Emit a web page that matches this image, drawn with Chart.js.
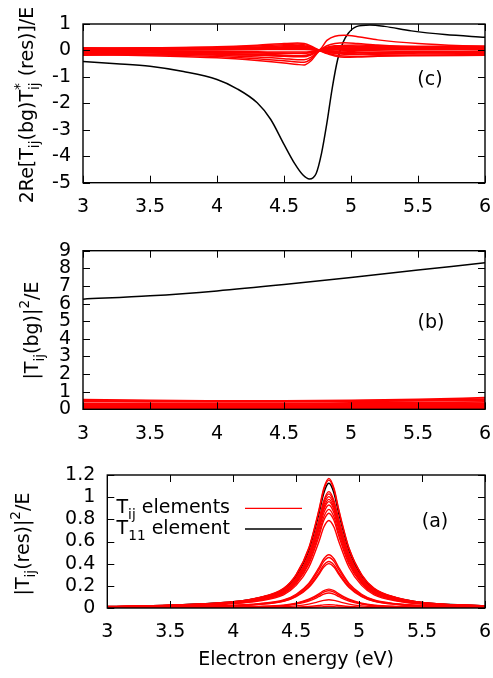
<!DOCTYPE html>
<html><head><meta charset="utf-8">
<script src="https://cdn.jsdelivr.net/npm/chart.js@4.4.0/dist/chart.umd.min.js"></script>
<style>
html,body{margin:0;padding:0;background:#fff;width:493px;height:678px;overflow:hidden}
.p{position:absolute;left:0;width:493px}
</style></head><body>
<div class="p" style="top:0;height:220px"><canvas id="cC"></canvas></div>
<div class="p" style="top:220px;height:230px"><canvas id="cB"></canvas></div>
<div class="p" style="top:450px;height:228px"><canvas id="cA"></canvas></div>
<script>
const FONT = "'DejaVu Sans', sans-serif";

// ---------- Panel (c): 2Re[Tij(bg) Tij*(res)]/E ----------
const energyC = [3.0, 3.25, 3.5, 3.75, 4.0, 4.15, 4.3, 4.4, 4.5, 4.58, 4.64, 4.69, 4.74, 4.78, 4.82, 4.86, 4.9, 4.94, 4.98, 5.04, 5.14, 5.25, 5.45, 5.7, 6.0];
const intT11 = [-0.42, -0.50, -0.60, -0.80, -1.10, -1.45, -1.98, -2.60, -3.55, -4.28, -4.70, -4.86, -4.65, -3.89, -2.75, -1.42, -0.35, 0.30, 0.65, 0.90, 0.96, 0.91, 0.74, 0.60, 0.50];
const energyCR = [3.0, 3.5, 4.0, 4.3, 4.5, 4.6, 4.65, 4.7, 4.76, 4.82, 4.88, 4.95, 5.05, 5.2, 5.5, 6.0];
const intTij01 = [0.05, 0.06, 0.09, 0.13, 0.18, 0.20, 0.18, 0.12, 0.02, 0.38, 0.54, 0.57, 0.52, 0.40, 0.26, 0.14];
const intTij02 = [0.08, 0.10, 0.14, 0.20, 0.26, 0.28, 0.26, 0.17, 0.02, -0.08, -0.10, -0.06, -0.02, 0.02, 0.05, 0.06];
const intTij03 = [0.06, 0.08, 0.12, 0.17, 0.22, 0.24, 0.22, 0.14, 0.02, 0.18, 0.26, 0.29, 0.26, 0.21, 0.14, 0.10];
const intTij04 = [-0.15, -0.20, -0.28, -0.38, -0.47, -0.53, -0.55, -0.40, -0.04, 0.12, 0.18, 0.18, 0.16, 0.13, 0.10, 0.08];
const intTij05 = [-0.12, -0.16, -0.23, -0.31, -0.39, -0.44, -0.45, -0.33, -0.03, 0.08, 0.13, 0.14, 0.13, 0.12, 0.10, 0.10];
const intTij06 = [-0.10, -0.13, -0.18, -0.25, -0.31, -0.35, -0.35, -0.26, -0.02, 0.04, 0.07, 0.08, 0.08, 0.07, 0.06, 0.05];
const intTij07 = [0.00, 0.02, 0.04, 0.06, 0.08, 0.08, 0.08, 0.05, 0.01, -0.06, -0.11, -0.14, -0.14, -0.12, -0.10, -0.08];
const intTij08 = [-0.05, -0.06, -0.08, -0.10, -0.12, -0.12, -0.12, -0.08, -0.01, -0.10, -0.17, -0.21, -0.22, -0.20, -0.18, -0.16];
const intTij09 = [0.03, 0.04, 0.06, 0.08, 0.10, 0.10, 0.10, 0.07, 0.01, 0.06, 0.11, 0.13, 0.14, 0.13, 0.12, 0.12];
const intTij10 = [-0.02, -0.03, -0.04, -0.05, -0.06, -0.06, -0.06, -0.04, 0.00, -0.03, -0.05, -0.07, -0.08, -0.08, -0.07, -0.07];
const intTij11 = [0.01, 0.01, 0.02, 0.03, 0.04, 0.04, 0.04, 0.03, 0.00, 0.02, 0.04, 0.05, 0.05, 0.05, 0.04, 0.04];
const intTij12 = [-0.08, -0.10, -0.13, -0.17, -0.20, -0.21, -0.21, -0.15, -0.02, -0.12, -0.21, -0.26, -0.25, -0.22, -0.20, -0.18];
const intTij13 = [0.10, 0.09, 0.08, 0.09, 0.12, 0.13, 0.12, 0.08, 0.02, 0.04, 0.07, 0.09, 0.10, 0.12, 0.15, 0.17];
const intTij14 = [-0.18, -0.17, -0.16, -0.18, -0.22, -0.24, -0.24, -0.17, -0.02, 0.01, 0.02, 0.01, 0.00, -0.02, -0.04, -0.05];
const intTij15 = [0.04, 0.05, 0.07, 0.10, 0.14, 0.16, 0.15, 0.10, 0.02, 0.10, 0.16, 0.20, 0.21, 0.18, 0.15, 0.13];
const intTij16 = [-0.06, -0.08, -0.11, -0.14, -0.18, -0.20, -0.19, -0.13, -0.01, 0.03, 0.05, 0.06, 0.06, 0.05, 0.03, 0.02];
const intTij17 = [0.07, 0.07, 0.06, 0.07, 0.09, 0.10, 0.09, 0.06, 0.01, -0.02, -0.03, -0.01, 0.01, 0.04, 0.07, 0.09];
const intTij18 = [-0.03, -0.04, -0.06, -0.08, -0.10, -0.11, -0.10, -0.07, 0.00, -0.05, -0.09, -0.12, -0.13, -0.14, -0.13, -0.12];
const intRed = [intTij01, intTij02, intTij03, intTij04, intTij05, intTij06, intTij07, intTij08, intTij09, intTij10, intTij11, intTij12, intTij13, intTij14, intTij15, intTij16, intTij17, intTij18];

// ---------- Panel (b): |Tij(bg)|^2/E ----------
const energyB = [3.0, 3.5, 4.0, 4.5, 5.0, 5.5, 6.0];
const bgT11 = [6.25, 6.44, 6.72, 7.08, 7.48, 7.90, 8.32];
const bgTij01 = [0.55, 0.50, 0.48, 0.47, 0.50, 0.56, 0.66];
const bgTij02 = [0.50, 0.47, 0.45, 0.45, 0.48, 0.52, 0.58];
const bgTij03 = [0.45, 0.44, 0.43, 0.43, 0.45, 0.48, 0.52];
const bgTij04 = [0.33, 0.33, 0.33, 0.34, 0.36, 0.38, 0.42];
const bgTij05 = [0.28, 0.28, 0.29, 0.30, 0.31, 0.32, 0.34];
const bgTij06 = [0.22, 0.22, 0.23, 0.24, 0.25, 0.26, 0.28];
const bgTij07 = [0.17, 0.17, 0.18, 0.18, 0.19, 0.20, 0.22];
const bgTij08 = [0.12, 0.12, 0.13, 0.13, 0.14, 0.14, 0.15];
const bgTij09 = [0.07, 0.07, 0.08, 0.08, 0.08, 0.09, 0.09];
const bgTij10 = [0.03, 0.03, 0.03, 0.04, 0.04, 0.04, 0.04];
const bgTij11 = [0.01, 0.01, 0.01, 0.01, 0.01, 0.01, 0.01];
const bgRed = [bgTij01, bgTij02, bgTij03, bgTij04, bgTij05, bgTij06, bgTij07, bgTij08, bgTij09, bgTij10, bgTij11];

// ---------- Panel (a): |Tij(res)|^2/E ----------
const energyA = [3.0, 3.5, 4.0, 4.2, 4.4, 4.5, 4.6, 4.68, 4.72, 4.76, 4.80, 4.84, 4.92, 5.02, 5.12, 5.3, 5.5, 6.0];
const resT11 = [0.012, 0.025, 0.055, 0.09, 0.17, 0.29, 0.52, 0.848, 1.04, 1.125, 1.04, 0.848, 0.52, 0.29, 0.17, 0.09, 0.05, 0.018];
const resTij01 = [0.013, 0.026, 0.057, 0.094, 0.177, 0.302, 0.541, 0.882, 1.082, 1.17, 1.082, 0.882, 0.541, 0.302, 0.177, 0.094, 0.051, 0.019];
const resTij02 = [0.013, 0.025, 0.057, 0.092, 0.174, 0.298, 0.534, 0.871, 1.068, 1.155, 1.068, 0.871, 0.534, 0.298, 0.174, 0.092, 0.051, 0.018];
const resTij03 = [0.012, 0.023, 0.051, 0.084, 0.159, 0.271, 0.485, 0.792, 0.971, 1.05, 0.971, 0.792, 0.485, 0.271, 0.159, 0.084, 0.046, 0.017];
const resTij04 = [0.011, 0.023, 0.050, 0.082, 0.156, 0.266, 0.476, 0.777, 0.953, 1.03, 0.953, 0.777, 0.476, 0.266, 0.156, 0.082, 0.045, 0.016];
const resTij05 = [0.011, 0.022, 0.049, 0.080, 0.152, 0.259, 0.464, 0.758, 0.930, 1.005, 0.930, 0.758, 0.464, 0.259, 0.152, 0.080, 0.044, 0.016];
const resTij06 = [0.011, 0.022, 0.048, 0.078, 0.148, 0.253, 0.453, 0.739, 0.907, 0.98, 0.907, 0.739, 0.453, 0.253, 0.148, 0.078, 0.043, 0.016];
const resTij07 = [0.011, 0.021, 0.047, 0.077, 0.145, 0.248, 0.444, 0.724, 0.888, 0.96, 0.888, 0.724, 0.444, 0.248, 0.145, 0.077, 0.042, 0.015];
const resTij08 = [0.010, 0.020, 0.046, 0.074, 0.140, 0.240, 0.430, 0.701, 0.860, 0.93, 0.860, 0.701, 0.430, 0.240, 0.140, 0.074, 0.041, 0.015];
const resTij09 = [0.010, 0.020, 0.044, 0.071, 0.134, 0.230, 0.411, 0.671, 0.823, 0.89, 0.823, 0.671, 0.411, 0.230, 0.134, 0.071, 0.039, 0.014];
const resTij10 = [0.009, 0.019, 0.042, 0.068, 0.129, 0.221, 0.395, 0.645, 0.791, 0.855, 0.791, 0.645, 0.395, 0.221, 0.129, 0.068, 0.038, 0.014];
const resTij11 = [0.009, 0.017, 0.039, 0.063, 0.119, 0.204, 0.365, 0.596, 0.731, 0.79, 0.731, 0.596, 0.365, 0.204, 0.119, 0.063, 0.035, 0.013];
const resTij12 = [0.005, 0.011, 0.024, 0.038, 0.072, 0.124, 0.222, 0.362, 0.444, 0.48, 0.444, 0.362, 0.222, 0.124, 0.072, 0.038, 0.021, 0.008];
const resTij13 = [0.005, 0.010, 0.022, 0.036, 0.069, 0.117, 0.210, 0.343, 0.421, 0.455, 0.421, 0.343, 0.210, 0.117, 0.069, 0.036, 0.020, 0.007];
const resTij14 = [0.005, 0.009, 0.021, 0.034, 0.063, 0.108, 0.194, 0.317, 0.389, 0.42, 0.389, 0.317, 0.194, 0.108, 0.063, 0.034, 0.018, 0.007];
const resTij15 = [0.004, 0.009, 0.020, 0.032, 0.060, 0.103, 0.185, 0.302, 0.370, 0.40, 0.370, 0.302, 0.185, 0.103, 0.060, 0.032, 0.018, 0.006];
const resTij16 = [0.002, 0.004, 0.008, 0.014, 0.026, 0.044, 0.079, 0.128, 0.157, 0.17, 0.157, 0.128, 0.079, 0.044, 0.026, 0.014, 0.007, 0.003];
const resTij17 = [0.002, 0.003, 0.008, 0.012, 0.023, 0.040, 0.072, 0.117, 0.143, 0.155, 0.143, 0.117, 0.072, 0.040, 0.023, 0.012, 0.007, 0.002];
const resTij18 = [0.001, 0.003, 0.007, 0.011, 0.020, 0.035, 0.062, 0.102, 0.125, 0.135, 0.125, 0.102, 0.062, 0.035, 0.020, 0.011, 0.006, 0.002];
const resTij19 = [0.001, 0.002, 0.004, 0.006, 0.011, 0.019, 0.035, 0.057, 0.069, 0.075, 0.069, 0.057, 0.035, 0.019, 0.011, 0.006, 0.003, 0.001];
const resTij20 = [0.000, 0.001, 0.001, 0.002, 0.005, 0.008, 0.014, 0.023, 0.028, 0.03, 0.028, 0.023, 0.014, 0.008, 0.005, 0.002, 0.001, 0.000];
const resTij21 = [0.000, 0.000, 0.001, 0.001, 0.002, 0.003, 0.006, 0.009, 0.011, 0.012, 0.011, 0.009, 0.006, 0.003, 0.002, 0.001, 0.000, 0.000];
const resRed = [resTij01, resTij02, resTij03, resTij04, resTij05, resTij06, resTij07, resTij08, resTij09, resTij10, resTij11, resTij12, resTij13, resTij14, resTij15, resTij16, resTij17, resTij18, resTij19, resTij20, resTij21];

// ---------- ticks ----------
const xTickStep = 0.5;
const xMin = 3, xMax = 6;
const TICK_SIZE = 19;
const TEXT_SIZE = 18;

// ---------- rich text helpers ----------
function segWidth(ctx, seg, size) {
  if (seg.k === 'n') { ctx.font = size + 'px ' + FONT; return ctx.measureText(seg.t).width; }
  ctx.font = (size * 0.72) + 'px ' + FONT;
  if (seg.k === 'both') return Math.max(ctx.measureText(seg.sub).width, ctx.measureText(seg.sup).width);
  return ctx.measureText(seg.t).width;
}
function richWidth(ctx, segs, size) { return segs.reduce((a, s) => a + segWidth(ctx, s, size), 0); }
function drawRich(ctx, segs, x, y, size) {
  let cx = x;
  ctx.textAlign = 'left'; ctx.textBaseline = 'alphabetic';
  for (const seg of segs) {
    const w = segWidth(ctx, seg, size);
    if (seg.k === 'n') { ctx.font = size + 'px ' + FONT; ctx.fillText(seg.t, cx, y); }
    else {
      ctx.font = (size * 0.72) + 'px ' + FONT;
      if (seg.k === 'sub') ctx.fillText(seg.t, cx, y + size * 0.3);
      else if (seg.k === 'sup') ctx.fillText(seg.t, cx, y - size * 0.45);
      else { ctx.fillText(seg.sub, cx, y + size * 0.3); ctx.fillText(seg.sup, cx, y - size * 0.5); }
    }
    cx += w;
  }
}

const decorPlugin = {
  id: 'decor',
  afterDatasetsDraw(chart) {
    const o = chart.options.plugins.decor;
    const {ctx, chartArea: a, scales: {x, y}} = chart;
    ctx.save();
    ctx.strokeStyle = '#000';
    ctx.lineWidth = 1;
    const L = 7;
    ctx.beginPath();
    x.ticks.forEach(t => {
      const px = Math.round(x.getPixelForValue(t.value)) + 0.5;
      ctx.moveTo(px, a.bottom); ctx.lineTo(px, a.bottom - L);
      ctx.moveTo(px, a.top); ctx.lineTo(px, a.top + L);
    });
    y.ticks.forEach(t => {
      const py = Math.round(y.getPixelForValue(t.value)) + 0.5;
      ctx.moveTo(a.left, py); ctx.lineTo(a.left + L, py);
      ctx.moveTo(a.right, py); ctx.lineTo(a.right - L, py);
    });
    ctx.stroke();
    ctx.lineWidth = 1.4;
    ctx.strokeRect(a.left, a.top, a.right - a.left, a.bottom - a.top);
    ctx.fillStyle = '#000';
    ctx.font = TICK_SIZE + 'px ' + FONT;
    ctx.textAlign = 'center'; ctx.textBaseline = 'middle';
    ctx.fillText(o.label, o.labelX, o.labelY);
    const size = TEXT_SIZE + 1;
    const w = richWidth(ctx, o.ytitle, size);
    ctx.save();
    ctx.translate(o.ytX, o.ytY);
    ctx.rotate(-Math.PI / 2);
    drawRich(ctx, o.ytitle, -w / 2, 0, size);
    ctx.restore();
    if (o.legend) {
      o.legend.forEach(item => {
        const lw = richWidth(ctx, item.segs, TICK_SIZE);
        ctx.fillStyle = '#000';
        drawRich(ctx, item.segs, item.textRight - lw, item.baseline, TICK_SIZE);
        ctx.strokeStyle = item.color; ctx.lineWidth = item.width;
        ctx.beginPath(); ctx.moveTo(item.x0, item.lineY); ctx.lineTo(item.x1, item.lineY); ctx.stroke();
      });
    }
    ctx.restore();
  }
};

function series(xs, ys, color, width) {
  return {
    data: xs.map((xv, i) => ({x: xv, y: ys[i]})),
    borderColor: color, borderWidth: width, pointRadius: 0, fill: false,
    cubicInterpolationMode: 'monotone', tension: 0
  };
}
const fmt = v => String(Number(Number(v).toFixed(2)));

function makeChart(id, datasets, p) {
  return new Chart(document.getElementById(id), {
    type: 'line',
    data: {datasets},
    options: {
      responsive: true, maintainAspectRatio: false, animation: false,
      layout: {padding: {top: p.top, right: 8, left: 0, bottom: 0}},
      plugins: {legend: {display: false}, tooltip: {enabled: false}, decor: p.decor},
      scales: {
        x: {
          type: 'linear', min: xMin, max: xMax,
          grid: {display: false, drawTicks: false}, border: {display: false},
          ticks: {stepSize: xTickStep, autoSkip: false, maxRotation: 0, padding: 13, color: '#000',
                  font: {family: FONT, size: TICK_SIZE}, callback: fmt},
          title: p.xtitle ? {display: true, text: p.xtitle, color: '#000', font: {family: FONT, size: TICK_SIZE},
                              padding: {top: 0, bottom: 7}} : {display: false},
          afterFit: s => { s.height = p.xh; s.paddingLeft = 0; s.paddingRight = 0; }
        },
        y: {
          type: 'linear', min: p.ymin, max: p.ymax,
          grid: {display: false, drawTicks: false}, border: {display: false},
          ticks: {stepSize: p.ystep, autoSkip: false, padding: 12, color: '#000',
                  font: {family: FONT, size: TICK_SIZE}, callback: fmt},
          afterFit: s => { s.width = p.yw; s.paddingTop = 0; s.paddingBottom = 0; }
        }
      }
    },
    plugins: [decorPlugin]
  });
}

// Panel (c)
const dsC = intRed.map(r => series(energyCR, r, '#ff0000', 1.5));
dsC.push(series(energyC, intT11, '#000000', 1.5));
makeChart('cC', dsC, {
  top: 24, xh: 37.3, yw: 83, ymin: -5, ymax: 1, ystep: 1,
  decor: {label: '(c)', labelX: 430, labelY: 80, ytX: 33, ytY: 105,
    ytitle: [{k: 'n', t: '2Re[T'}, {k: 'sub', t: 'ij'}, {k: 'n', t: '(bg)T'}, {k: 'both', sub: 'ij', sup: '*'}, {k: 'n', t: ' (res)]/E'}]}
});

// Panel (b)
const dsB = bgRed.map(r => series(energyB, r, '#ff0000', 1.8));
dsB.push(series(energyB, bgT11, '#000000', 1.5));
makeChart('cB', dsB, {
  top: 30.7, xh: 40.7, yw: 83, ymin: 0, ymax: 9, ystep: 1,
  decor: {label: '(b)', labelX: 431, labelY: 103, ytX: 38, ytY: 110.5,
    ytitle: [{k: 'n', t: '|T'}, {k: 'sub', t: 'ij'}, {k: 'n', t: '(bg)|'}, {k: 'sup', t: '2'}, {k: 'n', t: '/E'}]}
});

// Panel (a)
const dsA = resRed.map(r => series(energyA, r, '#ff0000', 1.4));
dsA.push(series(energyA, resT11, '#000000', 1.6));
makeChart('cA', dsA, {
  top: 25, xh: 70, yw: 107.3, ymin: 0, ymax: 1.2, ystep: 0.2, xtitle: 'Electron energy (eV)',
  decor: {label: '(a)', labelX: 435, labelY: 72, ytX: 29, ytY: 94,
    ytitle: [{k: 'n', t: '|T'}, {k: 'sub', t: 'ij'}, {k: 'n', t: '(res)|'}, {k: 'sup', t: '2'}, {k: 'n', t: '/E'}],
    legend: [
      {segs: [{k: 'n', t: 'T'}, {k: 'sub', t: 'ij'}, {k: 'n', t: ' elements'}], textRight: 230, baseline: 63, x0: 245, x1: 302, lineY: 58.3, color: '#ff0000', width: 1.3},
      {segs: [{k: 'n', t: 'T'}, {k: 'sub', t: '11'}, {k: 'n', t: ' element'}], textRight: 230, baseline: 84, x0: 245, x1: 302, lineY: 79, color: '#000000', width: 1.6}
    ]}
});
</script>
</body></html>
